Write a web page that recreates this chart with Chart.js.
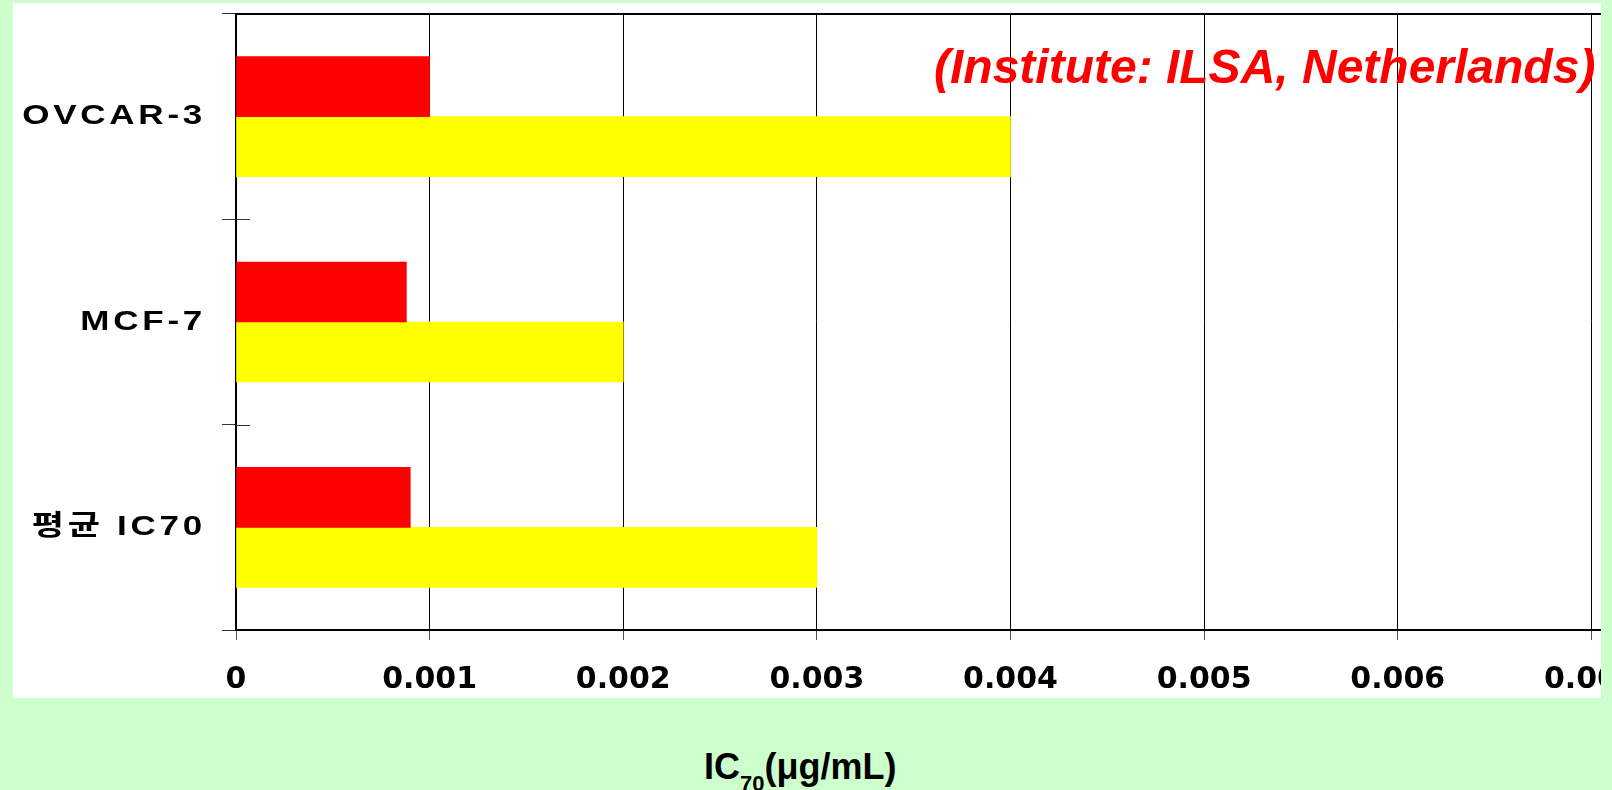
<!DOCTYPE html>
<html>
<head>
<meta charset="utf-8">
<script src="https://cdn.jsdelivr.net/npm/chart.js@4.4.1/dist/chart.umd.min.js"></script>
<style>
  html, body { margin: 0; padding: 0; }
  body { width: 1612px; height: 790px; background: #CCFFCC; position: relative; overflow: hidden; }
  #panel { position: absolute; left: 13px; top: 3px; width: 1588px; height: 695px; background: #FFFFFF; overflow: hidden; }
  #wrap { position: absolute; left: -13px; top: -3px; width: 1800px; height: 700px; }
  #xtitle { position: absolute; left: 704px; top: 749px; font: bold 36px 'Liberation Sans', Arial, sans-serif; line-height: 36px; color: #000; white-space: nowrap; }
  #xtitle .sub { font-size: 22px; position: relative; top: 12px; }
</style>
</head>
<body>
<div id="panel"><div id="wrap"><canvas id="c" width="1800" height="700"></canvas></div></div>
<div id="xtitle">IC<span class="sub">70</span>(μg/mL)</div>
<script>
const categories = ['OVCAR-3', 'MCF-7', '평균 IC70'];
const redValues = [0.001, 0.00088, 0.0009];
const yellowValues = [0.004, 0.002, 0.003];
const xTickLabels = ['0', '0.001', '0.002', '0.003', '0.004', '0.005', '0.006', '0.007', '0.008'];
const noteText = '(Institute: ILSA, Netherlands)';

const zeroPad = (s) => { s.paddingLeft = 0; s.paddingRight = 0; s.paddingTop = 0; s.paddingBottom = 0; };

const decor = {
  id: 'decor',
  beforeDraw(chart) {
    const s = chart.scales.y;
    if (s && !s._lsPatched) {
      const orig = s.drawLabels.bind(s);
      s.drawLabels = function (area) {
        const ctx = this.ctx;
        const ax = this.right - 14 - this.options.ticks.padding;
        ctx.save();
        ctx.translate(ax, 0);
        ctx.scale(1.25, 1);
        ctx.translate(-ax, 0);
        try { ctx.letterSpacing = '3px'; } catch (e) {}
        orig(area);
        ctx.restore();
      };
      s._lsPatched = true;
    }
  },
  afterDraw(chart) {
    const ctx = chart.ctx;
    const y = chart.scales.y;
    const left = chart.chartArea.left;
    ctx.save();
    ctx.strokeStyle = '#333';
    ctx.lineWidth = 1;
    for (let i = 1; i < categories.length; i++) {
      const py = Math.round(y.getPixelForValue(i - 0.5)) + 0.5;
      ctx.beginPath();
      ctx.moveTo(left, py);
      ctx.lineTo(left + 14, py);
      ctx.stroke();
    }
    ctx.fillStyle = '#FF0000';
    ctx.font = 'italic bold 48px "Liberation Sans", Arial, sans-serif';
    ctx.textAlign = 'left';
    ctx.textBaseline = 'alphabetic';
    ctx.fillText(noteText, 934, 83);
    ctx.restore();
  }
};

new Chart(document.getElementById('c'), {
  type: 'bar',
  data: {
    labels: categories,
    datasets: [
      { label: 'Series 1', data: redValues, backgroundColor: '#FF0000', borderWidth: 0, barThickness: 60 },
      { label: 'Series 2', data: yellowValues, backgroundColor: '#FFFF00', borderWidth: 0, barThickness: 60 }
    ]
  },
  options: {
    indexAxis: 'y',
    responsive: false,
    animation: false,
    layout: { padding: { left: 0, top: 14, right: 15, bottom: 10 } },
    plugins: { legend: { display: false }, tooltip: { enabled: false }, title: { display: false } },
    scales: {
      x: {
        type: 'linear',
        position: 'bottom',
        min: 0,
        max: 0.008,
        ticks: {
          stepSize: 0.001,
          color: '#000',
          padding: 22,
          font: { family: "'DejaVu Sans', sans-serif", size: 30, weight: 'bold' },
          callback: (v, i) => xTickLabels[i]
        },
        grid: { color: '#000', lineWidth: 1, tickLength: 10, tickColor: '#555' },
        border: { display: true, color: '#000', width: 2 },
        afterFit: (s) => { s.height = 60; zeroPad(s); }
      },
      x2: {
        type: 'linear',
        position: 'top',
        min: 0,
        max: 0.008,
        ticks: { display: false },
        grid: { drawOnChartArea: false, drawTicks: false },
        border: { display: true, color: '#000', width: 2 },
        afterFit: (s) => { s.height = 0; zeroPad(s); }
      },
      y: {
        type: 'category',
        position: 'left',
        offset: true,
        ticks: {
          color: '#000',
          padding: 16,
          font: { family: "'Liberation Sans', 'Noto Sans CJK KR', sans-serif", size: 28, weight: 'bold' }
        },
        grid: { offset: true, drawOnChartArea: false, tickLength: 14, tickColor: '#333', lineWidth: 1 },
        border: { display: true, color: '#000', width: 2 },
        afterFit: (s) => { s.width = 236; zeroPad(s); }
      }
    }
  },
  plugins: [decor]
});
</script>
</body>
</html>
